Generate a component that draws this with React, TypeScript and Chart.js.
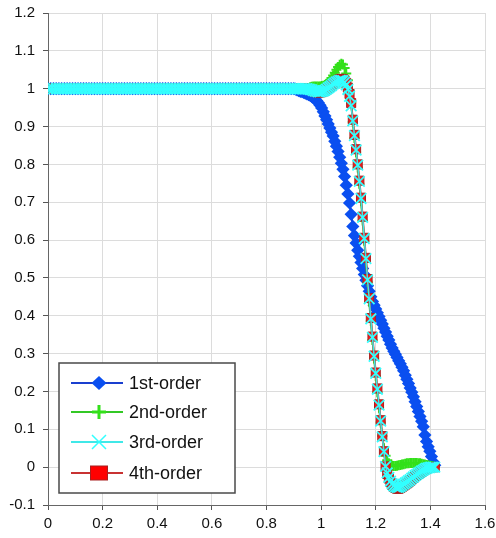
import React, { useEffect, useRef } from "react";
import { Chart, registerables } from "chart.js";
Chart.register(...registerables);

// x positions: plateau part, dense transition part
const plateauX = [
  0, 0.01, 0.02, 0.03, 0.04, 0.05, 0.06, 0.07, 0.08, 0.09,
  0.1, 0.11, 0.12, 0.13, 0.14, 0.15, 0.16, 0.17, 0.18, 0.19,
  0.2, 0.21, 0.22, 0.23, 0.24, 0.25, 0.26, 0.27, 0.28, 0.29,
  0.3, 0.31, 0.32, 0.33, 0.34, 0.35, 0.36, 0.37, 0.38, 0.39,
  0.4, 0.41, 0.42, 0.43, 0.44, 0.45, 0.46, 0.47, 0.48, 0.49,
  0.5, 0.51, 0.52, 0.53, 0.54, 0.55, 0.56, 0.57, 0.58, 0.59,
  0.6, 0.61, 0.62, 0.63, 0.64, 0.65, 0.66, 0.67, 0.68, 0.69,
  0.7, 0.71, 0.72, 0.73, 0.74, 0.75, 0.76, 0.77, 0.78, 0.79,
  0.8, 0.81, 0.82, 0.83, 0.84, 0.85, 0.86, 0.87, 0.88, 0.89,
];
const plateauLevel = [
  1, 1, 1, 1, 1, 1, 1, 1, 1, 1,
  1, 1, 1, 1, 1, 1, 1, 1, 1, 1,
  1, 1, 1, 1, 1, 1, 1, 1, 1, 1,
  1, 1, 1, 1, 1, 1, 1, 1, 1, 1,
  1, 1, 1, 1, 1, 1, 1, 1, 1, 1,
  1, 1, 1, 1, 1, 1, 1, 1, 1, 1,
  1, 1, 1, 1, 1, 1, 1, 1, 1, 1,
  1, 1, 1, 1, 1, 1, 1, 1, 1, 1,
  1, 1, 1, 1, 1, 1, 1, 1, 1, 1,
];
const rampX = [
  0.9, 0.906, 0.912, 0.918, 0.924, 0.93, 0.936, 0.942, 0.948, 0.954,
  0.96, 0.966, 0.972, 0.978, 0.984, 0.99, 0.996, 1.002, 1.008, 1.014,
  1.02, 1.026, 1.032, 1.038, 1.044, 1.05, 1.056, 1.062, 1.068, 1.074,
  1.08, 1.086, 1.092, 1.098, 1.104, 1.11, 1.116, 1.122, 1.128, 1.134,
  1.14, 1.146, 1.152, 1.158, 1.164, 1.17, 1.176, 1.182, 1.188, 1.194,
  1.2, 1.206, 1.212, 1.218, 1.224, 1.23, 1.236, 1.242, 1.248, 1.254,
  1.26, 1.266, 1.272, 1.278, 1.284, 1.29, 1.296, 1.302, 1.308, 1.314,
  1.32, 1.326, 1.332, 1.338, 1.344, 1.35, 1.356, 1.362, 1.368, 1.374,
  1.38, 1.386, 1.392, 1.398, 1.404, 1.41, 1.416,
];

const firstOrder = [
  1.0, 0.999, 0.997, 0.995, 0.993, 0.992, 0.99, 0.988, 0.986, 0.984,
  0.982, 0.979, 0.976, 0.972, 0.968, 0.963, 0.956, 0.949, 0.939, 0.928,
  0.918, 0.907, 0.896, 0.885, 0.875, 0.861, 0.848, 0.834, 0.819, 0.803,
  0.787, 0.768, 0.745, 0.722, 0.698, 0.668, 0.636, 0.612, 0.592, 0.573,
  0.557, 0.541, 0.525, 0.509, 0.494, 0.479, 0.465, 0.45, 0.438, 0.428,
  0.418, 0.408, 0.398, 0.388, 0.378, 0.367, 0.357, 0.346, 0.336, 0.325,
  0.315, 0.306, 0.298, 0.29, 0.281, 0.273, 0.264, 0.255, 0.243, 0.232,
  0.221, 0.209, 0.198, 0.186, 0.173, 0.16, 0.147, 0.134, 0.121, 0.107,
  0.085, 0.068, 0.054, 0.042, 0.028, 0.014, 0.005,
];
const secondOrder = [
  1.0, 1.0, 1.0, 1.0, 1.0, 1.0, 1.0, 1.0, 1.001, 1.002,
  1.004, 1.005, 1.006, 1.006, 1.006, 1.006, 1.006, 1.007, 1.008, 1.01,
  1.013, 1.017, 1.022, 1.028, 1.035, 1.042, 1.05, 1.057, 1.063, 1.066,
  1.064, 1.055, 1.04, 1.022, 0.995, 0.962, 0.912, 0.87, 0.832, 0.792,
  0.749, 0.703, 0.652, 0.598, 0.544, 0.489, 0.438, 0.386, 0.336, 0.287,
  0.241, 0.198, 0.157, 0.118, 0.082, 0.05, 0.03, 0.018, 0.01, 0.006,
  0.004, 0.003, 0.003, 0.004, 0.005, 0.006, 0.007, 0.008, 0.009, 0.01,
  0.01, 0.011, 0.011, 0.011, 0.011, 0.011, 0.01, 0.01, 0.009, 0.008,
  0.007, 0.006, 0.005, 0.004, 0.003, 0.002, 0.001,
];
const thirdOrder = [
  1.0, 1.0, 1.0, 1.0, 1.0, 1.0, 1.0, 1.0, 1.0, 0.999,
  0.998, 0.997, 0.995, 0.994, 0.993, 0.992, 0.992, 0.993, 0.994, 0.996,
  0.999, 1.002, 1.005, 1.008, 1.012, 1.015, 1.018, 1.02, 1.022, 1.022,
  1.021, 1.017, 1.01, 0.998, 0.98, 0.955, 0.915, 0.876, 0.838, 0.798,
  0.755, 0.71, 0.66, 0.604, 0.551, 0.495, 0.445, 0.392, 0.343, 0.293,
  0.248, 0.206, 0.164, 0.122, 0.08, 0.041, 0.002, -0.015, -0.027, -0.037,
  -0.044, -0.049, -0.052, -0.053, -0.053, -0.051, -0.048, -0.045, -0.042, -0.039,
  -0.036, -0.033, -0.029, -0.026, -0.022, -0.019, -0.016, -0.013, -0.01, -0.008,
  -0.005, -0.003, -0.002, -0.001, 0.0, 0.0, 0.0,
];
const fourthOrder = [
  1.0, 1.0, 1.0, 1.0, 1.0, 1.0, 1.0, 1.0, 1.0, 0.999,
  0.998, 0.996, 0.994, 0.992, 0.991, 0.99, 0.99, 0.991, 0.993, 0.995,
  0.998, 1.001, 1.005, 1.009, 1.013, 1.017, 1.02, 1.023, 1.025, 1.026,
  1.025, 1.022, 1.015, 1.003, 0.986, 0.962, 0.918, 0.878, 0.84, 0.8,
  0.757, 0.712, 0.662, 0.606, 0.553, 0.497, 0.447, 0.394, 0.345, 0.295,
  0.25, 0.208, 0.166, 0.124, 0.082, 0.042, 0.002, -0.018, -0.03, -0.04,
  -0.047, -0.052, -0.055, -0.057, -0.057, -0.055, -0.052, -0.049, -0.046, -0.043,
  -0.04, -0.036, -0.032, -0.028, -0.024, -0.021, -0.018, -0.015, -0.012, -0.009,
  -0.006, -0.004, -0.002, -0.001, 0.0, 0.0, 0.0,
];

const seriesNames = ["1st-order", "2nd-order", "3rd-order", "4th-order"];
const xTicks = [0, 0.2, 0.4, 0.6, 0.8, 1, 1.2, 1.4, 1.6];
const yTicks = [-0.1, 0, 0.1, 0.2, 0.3, 0.4, 0.5, 0.6, 0.7, 0.8, 0.9, 1, 1.1, 1.2];

const FONT = '"Liberation Sans", Arial, Helvetica, sans-serif';

const BLUE = "#0a4ff0";
const BLUE_LINE = "#1a3fcf";
const GREEN = "#33e01a";
const GREEN_LINE = "#33c825";
const CYAN = "#33ffff";
const CYAN_LINE = "#40e8e8";
const RED = "#ee1c1c";
const RED_LINE = "#c83232";
const RED_EDGE = "#a82020";

function toPoints(ys: number[]) {
  const xs = [...plateauX, ...rampX];
  const vals = [...plateauLevel, ...ys];
  return xs.map((x, i) => ({ x, y: vals[i] }));
}

function fmt(v: number) {
  return String(Number(v.toFixed(2)));
}

const legendPlugin = {
  id: "boxLegend",
  afterDraw(chart: any) {
    const ctx = chart.ctx as CanvasRenderingContext2D;
    const area = chart.chartArea;
    const bx = area.left + 11;
    const by = area.bottom - 142;
    const bw = 176;
    const bh = 130;
    ctx.save();
    ctx.fillStyle = "#ffffff";
    ctx.fillRect(bx, by, bw, bh);
    ctx.strokeStyle = "#4a4a4a";
    ctx.lineWidth = 1.5;
    ctx.strokeRect(bx, by, bw, bh);

    const rowsY = [20, 49, 79, 110];
    const x0 = bx + 12;
    const x1 = bx + 64;
    const mx = bx + 40;
    const lineColors = [BLUE_LINE, GREEN_LINE, CYAN_LINE, RED_LINE];
    seriesNames.forEach((name, i) => {
      const y = by + rowsY[i];
      ctx.beginPath();
      ctx.strokeStyle = lineColors[i];
      ctx.lineWidth = 2;
      ctx.moveTo(x0, y);
      ctx.lineTo(x1, y);
      ctx.stroke();
      if (i === 0) {
        ctx.beginPath();
        ctx.fillStyle = BLUE;
        ctx.moveTo(mx, y - 7);
        ctx.lineTo(mx + 7.5, y);
        ctx.lineTo(mx, y + 7);
        ctx.lineTo(mx - 7.5, y);
        ctx.closePath();
        ctx.fill();
      } else if (i === 1) {
        ctx.beginPath();
        ctx.strokeStyle = GREEN;
        ctx.lineWidth = 3;
        ctx.moveTo(mx - 7, y);
        ctx.lineTo(mx + 7, y);
        ctx.moveTo(mx, y - 7);
        ctx.lineTo(mx, y + 7);
        ctx.stroke();
      } else if (i === 2) {
        ctx.beginPath();
        ctx.strokeStyle = CYAN;
        ctx.lineWidth = 1.5;
        ctx.moveTo(mx - 7, y - 7);
        ctx.lineTo(mx + 7, y + 7);
        ctx.moveTo(mx + 7, y - 7);
        ctx.lineTo(mx - 7, y + 7);
        ctx.stroke();
      } else {
        ctx.fillStyle = "#ff0000";
        ctx.fillRect(mx - 8.5, y - 7, 17, 14);
        ctx.strokeStyle = RED_EDGE;
        ctx.lineWidth = 1;
        ctx.strokeRect(mx - 8.5, y - 7, 17, 14);
      }
      ctx.fillStyle = "#111111";
      ctx.font = `18px ${FONT}`;
      ctx.textBaseline = "middle";
      ctx.textAlign = "left";
      ctx.fillText(name, bx + 70, y + 1);
    });
    ctx.restore();
  },
};

export default function App() {
  const canvasRef = useRef<HTMLCanvasElement | null>(null);

  useEffect(() => {
    document.body.style.margin = "0";
    const canvas = canvasRef.current;
    if (!canvas) return;
    const chart = new Chart(canvas, {
      type: "scatter",
      data: {
        datasets: [
          {
            label: seriesNames[0],
            data: toPoints(firstOrder),
            showLine: true,
            borderColor: BLUE_LINE,
            borderWidth: 2,
            pointStyle: "rectRot",
            pointRadius: 6.6,
            pointBackgroundColor: BLUE,
            pointBorderColor: BLUE,
            pointBorderWidth: 0,
            order: 3,
          },
          {
            label: seriesNames[1],
            data: toPoints(secondOrder),
            showLine: true,
            borderColor: GREEN_LINE,
            borderWidth: 2,
            pointStyle: "cross",
            pointRadius: 5,
            pointBorderColor: GREEN,
            pointBorderWidth: 2,
            order: 2,
          },
          {
            label: seriesNames[2],
            data: toPoints(thirdOrder),
            showLine: true,
            borderColor: CYAN_LINE,
            borderWidth: 1.5,
            pointStyle: "crossRot",
            pointRadius: 7.5,
            pointBorderColor: CYAN,
            pointBorderWidth: 1.8,
            order: 0,
          },
          {
            label: seriesNames[3],
            data: toPoints(fourthOrder),
            showLine: true,
            borderColor: RED_LINE,
            borderWidth: 2,
            pointStyle: "rect",
            pointRadius: 6.4,
            pointBackgroundColor: RED,
            pointBorderColor: RED_EDGE,
            pointBorderWidth: 1,
            order: 1,
          },
        ],
      },
      options: {
        responsive: false,
        animation: false,
        events: [],
        layout: { padding: { top: 13, right: 11, left: 0, bottom: 0 } },
        plugins: {
          legend: { display: false },
          tooltip: { enabled: false },
          title: { display: false },
        },
        scales: {
          x: {
            type: "linear",
            min: 0,
            max: 1.6,
            afterBuildTicks: (s: any) => {
              s.ticks = xTicks.map((v) => ({ value: v }));
            },
            afterFit: (s: any) => {
              s.height = 33;
              s.paddingLeft = 0;
              s.paddingRight = 0;
            },
            ticks: {
              color: "#111",
              font: { family: FONT, size: 15 },
              padding: 5,
              maxRotation: 0,
              autoSkip: false,
              callback: (v: any) => fmt(Number(v)),
            },
            grid: {
              color: "#dcdcdc",
              lineWidth: 1,
              tickColor: "#555",
              tickLength: 5,
            },
            border: { color: "#666", width: 1 },
          },
          y: {
            type: "linear",
            min: -0.1,
            max: 1.2,
            afterBuildTicks: (s: any) => {
              s.ticks = yTicks.map((v) => ({ value: v }));
            },
            afterFit: (s: any) => {
              s.width = 48;
              s.paddingTop = 0;
              s.paddingBottom = 0;
            },
            ticks: {
              color: "#111",
              font: { family: FONT, size: 15 },
              padding: 8,
              autoSkip: false,
              callback: (v: any) => fmt(Number(v)),
            },
            grid: {
              color: "#dcdcdc",
              lineWidth: 1,
              tickColor: "#555",
              tickLength: 5,
            },
            border: { color: "#666", width: 1 },
          },
        },
      },
      plugins: [legendPlugin],
    });
    return () => chart.destroy();
  }, []);

  return (
    <div style={{ width: 496, height: 538 }}>
      <canvas ref={canvasRef} width={496} height={538} />
    </div>
  );
}
